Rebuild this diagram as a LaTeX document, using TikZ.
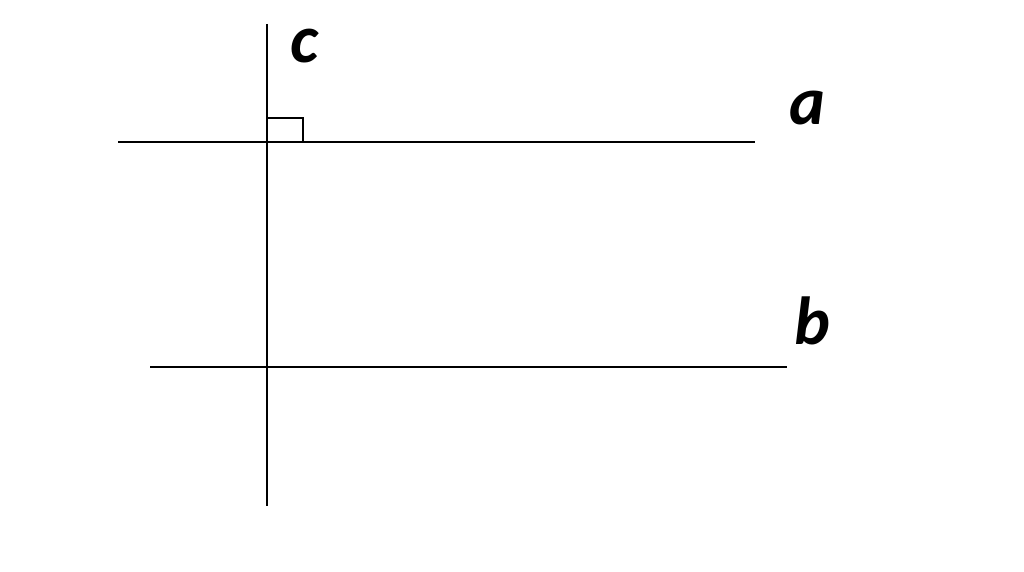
\documentclass[tikz,border=0pt]{standalone}
\usepackage{fontspec}
\setmainfont{Carlito}
\begin{document}
\begin{tikzpicture}[x=1pt,y=-1pt,
  ln/.style={line width=1.6pt,black},
  lbl/.style={inner sep=0pt,font=\fontsize{68}{70}\selectfont\bfseries\itshape}]
\useasboundingbox (0,0) rectangle (1024,572);
\coordinate (cT) at (267,24);
\coordinate (cB) at (267,506);
\coordinate (aL) at (118,142);
\coordinate (aR) at (755,142);
\coordinate (bL) at (150,367);
\coordinate (bR) at (787,367);
\draw[ln] (cT) -- (cB);
\draw[ln] (aL) -- (aR);
\draw[ln] (bL) -- (bR);
\draw[ln] (267,118) -- (303,118) -- (303,142);
\node[lbl] (c) at (304,46) {c};
\node[lbl] (a) at (807,108) {a};
\node[lbl] (b) at (812,321) {b};
\end{tikzpicture}
\end{document}
